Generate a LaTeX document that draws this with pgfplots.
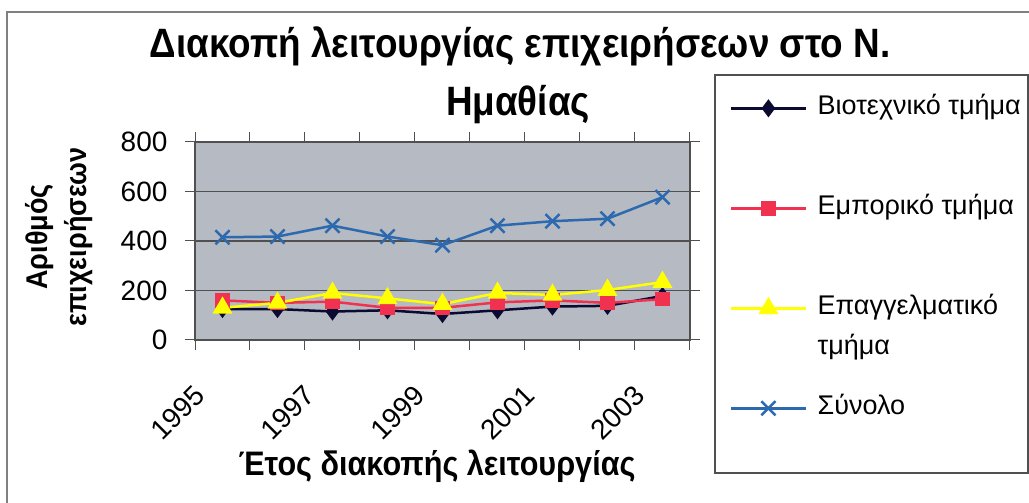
\documentclass[border=0pt]{standalone}
\usepackage{fontspec}
\setmainfont{Liberation Sans}
\newfontfamily\condfont{Liberation Sans}[FakeStretch=0.9]
\usepackage{pgfplots}
\pgfplotsset{compat=1.18}
\definecolor{plotbg}{RGB}{182,186,194}
\definecolor{sernavy}{RGB}{10,10,50}
\definecolor{serred}{RGB}{240,50,80}
\definecolor{seryellow}{RGB}{255,255,0}
\definecolor{serblue}{RGB}{45,105,175}
\definecolor{axgray}{RGB}{80,80,80}
\begin{document}
\begin{tikzpicture}[x=1pt,y=1pt]
\useasboundingbox (0,0) rectangle (1029,503);
\fill[white] (0,0) rectangle (1029,503);
\draw[gray, line width=1.2pt] (7,0) -- (7,491) -- (1029,491);
\node[font=\condfont\bfseries\fontsize{41}{44}\selectfont] at (520,457) {Διακοπή λειτουργίας επιχειρήσεων στο Ν.};
\node[font=\condfont\bfseries\fontsize{41}{44}\selectfont] at (518,398) {Ημαθίας};
\node[rotate=90, align=center, font=\condfont\bfseries\fontsize{30}{39}\selectfont] at (59,266) {Αριθμός\\επιχειρήσεων};
\node[font=\condfont\bfseries\fontsize{34}{36}\selectfont] at (437,37) {Έτος διακοπής λειτουργίας};
\draw[axgray, line width=1.2pt] (715,30) rectangle (1028,428);
\begin{axis}[
  at={(195pt,163pt)}, anchor=south west,
  width=495pt, height=198pt, scale only axis,
  xmin=-0.5, xmax=8.5, ymin=0, ymax=800,
  axis background/.style={fill=plotbg},
  ytick={0,200,400,600,800},
  xtick={-0.5,0.5,...,8.5},
  xticklabels={},
  extra x ticks={0,2,4,6,8},
  extra x tick labels={1995,1997,1999,2001,2003},
  extra x tick style={tick style={draw=none}},
  tick align=outside,
  major tick length=10pt,
  tick style={axgray, line width=1pt},
  ymajorgrids,
  major grid style={axgray, line width=1.2pt},
  axis line style={axgray, line width=1.2pt},
  /pgf/number format/assume math mode=true,
  tick label style={font=\fontsize{28}{30}\selectfont},
  yticklabel style={anchor=east, xshift=-14pt},
  xticklabel style={xshift=-20pt, yshift=-38pt, rotate=45, anchor=east},
  legend image code/.code={\draw[mark repeat=2,mark phase=2] plot coordinates {(0pt,0pt)(37pt,0pt)(75pt,0pt)};},
  legend style={at={(1.0505,1.338)}, anchor=north west, draw=none, fill=none,
    font=\fontsize{27}{40}\selectfont, row sep=70pt, column sep=8pt, inner xsep=15pt, inner ysep=18pt,
    nodes={text height=19pt, text depth=7pt}},
  legend cell align=left,
]
\addplot[sernavy, line width=2.5pt, mark=diamond*, mark size=7pt, mark options={solid}]
  coordinates {(0,125) (1,125) (2,115) (3,120) (4,105) (5,120) (6,135) (7,138) (8,178)};
\addlegendentry{Βιοτεχνικό τμήμα}
\addplot[serred, line width=2.5pt, mark=square*, mark size=6pt, mark options={solid}]
  coordinates {(0,160) (1,150) (2,155) (3,130) (4,130) (5,152) (6,160) (7,150) (8,165)};
\addlegendentry{Εμπορικό τμήμα}
\addplot[seryellow, line width=2.5pt, mark=triangle*, mark size=9pt, mark options={solid}]
  coordinates {(0,130) (1,150) (2,190) (3,168) (4,145) (5,190) (6,182) (7,202) (8,234)};
\addlegendentry{\vtop{\hbox{Επαγγελματικό}\hbox{τμήμα}}}
\addplot[serblue, line width=2.5pt, mark=x, mark size=10pt, mark options={solid, line width=2.5pt}]
  coordinates {(0,415) (1,418) (2,462) (3,418) (4,383) (5,462) (6,480) (7,490) (8,577)};
\addlegendentry{Σύνολο}
\end{axis}
\end{tikzpicture}
\end{document}
